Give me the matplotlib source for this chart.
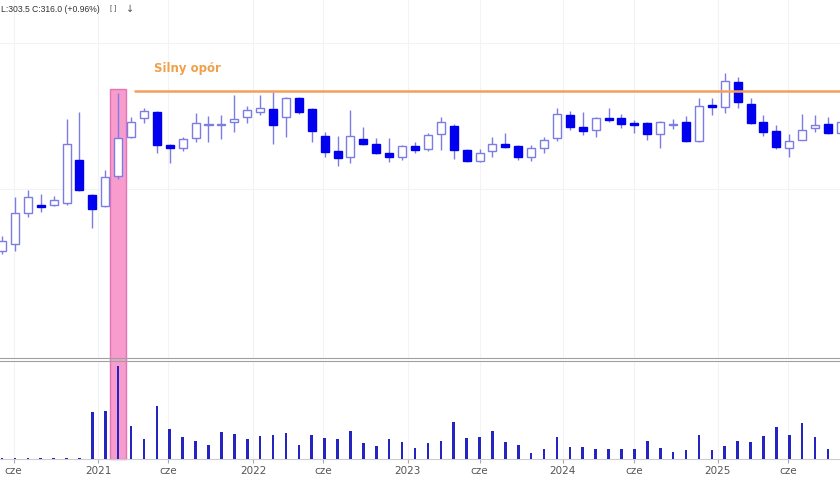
import matplotlib.pyplot as plt
from matplotlib.patches import Rectangle

# Świece miesięczne (od maja 2020 do bieżącego miesiąca)
opens = [283.75, 285.5, 293.25, 295.25, 295.25, 295.75, 306.5, 297.75, 295.0, 302.5,
         312.25, 317.0, 318.5, 310.25, 309.5, 312.0, 315.25, 315.25, 316.0, 317.25,
         318.5, 319.25, 317.25, 322.0, 319.25, 312.5, 308.75, 307.25, 311.75, 310.5,
         308.25, 307.25, 310.0, 309.25, 313.0, 315.0, 309.0, 306.25, 308.75, 310.5,
         310.0, 307.25, 309.5, 312.0, 317.75, 314.75, 314.0, 317.0, 317.0, 315.75,
         315.75, 313.0, 315.25, 316.0, 311.25, 320.25, 319.75, 326.0, 320.5, 316.0,
         313.75, 309.5, 311.5, 314.5, 315.5, 313.25]
highs = [287.5, 297.25, 299.0, 298.0, 297.5, 316.75, 318.5, 298.0, 304.0, 323.25,
         317.25, 319.5, 318.75, 310.5, 312.25, 318.25, 317.5, 317.75, 322.75, 320.0,
         322.75, 323.5, 322.25, 322.25, 319.5, 313.5, 312.5, 319.0, 314.75, 312.0,
         312.0, 310.25, 311.0, 313.25, 317.25, 315.5, 309.25, 309.25, 312.25, 313.25,
         310.25, 310.25, 312.25, 319.5, 318.75, 318.5, 317.25, 319.5, 318.0, 316.5,
         316.0, 316.25, 316.75, 317.5, 322.0, 322.0, 328.25, 327.25, 322.0, 317.75,
         315.25, 313.0, 318.0, 317.75, 317.25, 316.5]
lows = [283.0, 283.75, 292.25, 293.5, 295.0, 295.25, 298.75, 289.5, 294.75, 301.75,
        312.0, 315.75, 308.25, 305.75, 308.75, 311.0, 311.0, 311.75, 313.5, 315.75,
        317.75, 310.5, 312.25, 318.0, 311.0, 307.25, 305.0, 305.75, 310.25, 308.0,
        306.0, 306.5, 308.25, 308.75, 309.0, 306.75, 306.0, 306.0, 307.25, 309.5,
        306.5, 306.25, 308.25, 311.25, 314.0, 312.75, 312.25, 316.0, 314.5, 313.25,
        311.5, 309.5, 314.25, 311.0, 311.0, 317.75, 318.25, 319.5, 315.5, 312.5,
        309.25, 307.25, 311.5, 313.5, 313.0, 312.75]
closes = [286.25, 293.25, 297.25, 294.75, 296.5, 310.5, 299.0, 294.25, 302.25, 312.0,
          316.0, 318.75, 310.25, 309.5, 311.75, 315.75, 315.5, 315.5, 316.75, 319.0,
          319.5, 315.25, 322.0, 318.5, 313.75, 308.5, 307.0, 312.5, 310.5, 308.25,
          307.25, 310.0, 309.0, 312.75, 316.0, 309.0, 306.25, 308.25, 310.5, 309.75,
          307.25, 309.5, 311.5, 318.0, 314.75, 313.75, 317.0, 316.5, 315.5, 315.25,
          313.0, 316.0, 315.5, 311.25, 320.0, 319.75, 326.25, 321.0, 315.75, 313.5,
          309.75, 311.25, 314.0, 315.25, 313.25, 316.0]
volumes = [10, 10, 10, 10, 10, 13, 13, 470, 480, 930,
           330, 200, 530, 300, 220, 180, 140, 270, 250, 200,
           230, 240, 260, 140, 240, 210, 200, 280, 160, 130,
           200, 170, 110, 160, 180, 370, 210, 220, 280, 170,
           140, 60, 100, 220, 120, 120, 100, 100, 100, 100,
           180, 110, 70, 90, 240, 90, 130, 180, 170, 230,
           320, 240, 360, 220, 100, 170]

tick_pos = [0.9, 7.45, 12.9, 19.45, 24.9, 31.45, 37.0, 43.45, 49.0, 55.45, 60.9]
tick_labels = ['cze', '2021', 'cze', '2022', 'cze', '2023', 'cze', '2024', 'cze', '2025', 'cze']

resistance = 323.75   # poziom oporu
breakout = 9          # wyróżniona świeca (luty 2021)

fig = plt.figure(figsize=(8.4, 4.8), dpi=100)
ax = fig.add_axes([0, 122 / 480, 1, 358 / 480])
axv = fig.add_axes([0, 21 / 480, 1, 98 / 480])
for a in (ax, axv):
    a.set_facecolor('none')
    a.set_xlim(-0.155, 64.93)

ax.set_ylim(257.0, 346.5)
axv.set_ylim(0, 980)

# pionowy pas zaznaczenia przez oba panele
ax.add_patch(Rectangle((breakout - 0.62, 231.75), 1.24, resistance + 0.5 - 231.75,
                       facecolor='#f79ccd', edgecolor='#e574b4', lw=1,
                       clip_on=False, zorder=1.8))

# świece
w = 0.62
for i in range(len(opens)):
    o, h, l, c = opens[i], highs[i], lows[i], closes[i]
    ax.vlines(i, l, h, color='#7c7ce4', lw=1, zorder=2)
    if c >= o:
        ax.bar(i, c - o, bottom=o, width=w, facecolor='white',
               edgecolor='#7c7ce4', lw=1, zorder=3)
    else:
        ax.bar(i, o - c, bottom=c, width=w, facecolor='#0000ee',
               edgecolor='#0000ee', lw=1, zorder=3)

# linia oporu
ax.hlines(resistance, 10.2, 65, color='#f4a05c', lw=1.8, zorder=4)
ax.text(14.4, 329.3, 'Silny opór', color='#f0a048', fontsize=8.5,
        fontweight='bold', ha='center', va='center')

# wolumen
axv.bar(range(len(volumes)), volumes, width=0.2, color='#2424c0', zorder=3)

# siatka i osie
ax.set_xticks(tick_pos)
ax.set_yticks([299.25, 335.75])
ax.tick_params(bottom=False, left=False, labelbottom=False, labelleft=False)
ax.grid(color='#f3f3f3', lw=0.8)
for s in ('top', 'left', 'right'):
    ax.spines[s].set_visible(False)
ax.spines['bottom'].set_color('#a0a0a0')

axv.set_xticks(tick_pos)
axv.set_xticklabels(tick_labels)
axv.set_yticks([])
axv.tick_params(axis='x', length=3, color='#aaaaaa', labelsize=7.5,
                labelcolor='#555555', pad=2)
axv.grid(axis='x', color='#f3f3f3', lw=0.8)
for s in ('left', 'right'):
    axv.spines[s].set_visible(False)
axv.spines['top'].set_color('#a0a0a0')
axv.spines['bottom'].set_color('#cccccc')

# nagłówek
fig.text(1 / 840, 1 - 9 / 480, 'L:303.5 C:316.0 (+0.96%)', fontsize=6.2,
         family='Liberation Sans', color='#333333', va='center')
fig.text(110 / 840, 1 - 9 / 480, '[ ]', fontsize=5.5, family='Liberation Sans',
         color='#555555', va='center')
fig.text(126 / 840, 1 - 9 / 480, '↓', fontsize=7, color='#555555', va='center')

fig.savefig('out.png', dpi=100, facecolor='white')
